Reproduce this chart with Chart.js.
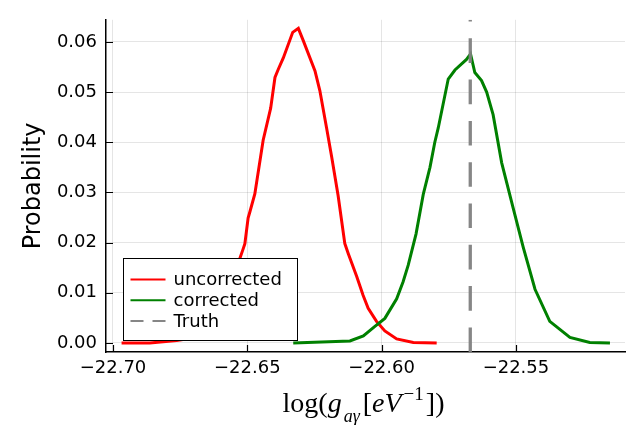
<!DOCTYPE html>
<html>
<head>
<meta charset="utf-8">
<script src="https://cdn.jsdelivr.net/npm/chart.js@4"></script>
<style>
  body { margin: 0; background: #fff; }
  #wrap { position: relative; width: 627px; height: 425px; }
  #xtitle {
    position: absolute; left: 0; top: 389px; width: 727px; text-align: center;
    font-family: "Liberation Serif", "DejaVu Serif", serif; font-size: 28px;
    line-height: 28px; color: #000; white-space: nowrap;
  }
  #xtitle i { padding-right: 1px; }
  #xtitle .sub { position: relative; top: 10px; font-size: 18px; font-style: italic; margin: 0 3px 0 1px; }
  #xtitle .sup { position: relative; top: -12px; font-size: 19px; margin: 0 2px 0 1px; }
</style>
</head>
<body>
<div id="wrap">
  <canvas id="kdeChart" width="627" height="425"></canvas>
  <div id="xtitle">log(<i>g</i><span class="sub">aγ</span>[<i>eV</i><span class="sup">−1</span>])</div>
</div>
<script>
// values
const uncorrectedX = [-22.6968, -22.6863, -22.6763, -22.6677, -22.6621, -22.6572, -22.6547, -22.6530,
  -22.6517, -22.6509, -22.6497, -22.6490, -22.6472, -22.6441, -22.6413, -22.6397, -22.6385, -22.6366,
  -22.6331, -22.6310, -22.6292, -22.6248, -22.6230, -22.6205, -22.6186, -22.6162, -22.6137, -22.6124,
  -22.6093, -22.6069, -22.6050, -22.6019, -22.5988, -22.5944, -22.5882, -22.5795];
const uncorrectedY = [0.0000, 0.0000, 0.0005, 0.0012, 0.0035, 0.0080, 0.0120, 0.0165,
  0.0185, 0.0198, 0.0249, 0.0262, 0.0297, 0.0404, 0.0468, 0.0529, 0.0545, 0.0568,
  0.0619, 0.0627, 0.0603, 0.0542, 0.0503, 0.0429, 0.0371, 0.0294, 0.0198, 0.0178,
  0.0133, 0.0095, 0.0069, 0.0043, 0.0024, 0.0008, 0.0001, 0.0000];

const correctedX = [-22.6329, -22.6118, -22.6068, -22.6025, -22.5988, -22.5944, -22.5920, -22.5901,
  -22.5872, -22.5845, -22.5820, -22.5802, -22.5789, -22.5752, -22.5727, -22.5684, -22.5669, -22.5653,
  -22.5628, -22.5609, -22.5585, -22.5553, -22.5510, -22.5473, -22.5429, -22.5374, -22.5299, -22.5225,
  -22.5150];
const correctedY = [0.0000, 0.0004, 0.0014, 0.0033, 0.0049, 0.0088, 0.0122, 0.0155,
  0.0217, 0.0296, 0.0350, 0.0400, 0.0429, 0.0526, 0.0544, 0.0565, 0.0576, 0.0539,
  0.0523, 0.0500, 0.0455, 0.0359, 0.0268, 0.0191, 0.0107, 0.0043, 0.0011, 0.0001,
  0.0000];

const truthValue = -22.567;

const xTicks = [-22.70, -22.65, -22.60, -22.55];
const yTicks = [0.00, 0.01, 0.02, 0.03, 0.04, 0.05, 0.06];
const xRange = [-22.7026, -22.5094];
const yRange = [-0.0018, 0.0644];

const seriesLabels = ['uncorrected', 'corrected', 'Truth'];

const toPoints = (xs, ys) => xs.map((x, i) => ({ x: x, y: ys[i] }));

// legend box + inward tick marks, drawn the way the original plot does it
const plotExtras = {
  id: 'plotExtras',
  afterDatasetsDraw(chart) {
    const ctx = chart.ctx;
    const area = chart.chartArea;
    const xs = chart.scales.x, ys = chart.scales.y;

    // inward ticks
    ctx.save();
    ctx.strokeStyle = '#000';
    ctx.lineWidth = 1.2;
    ctx.beginPath();
    xTicks.forEach(v => {
      const px = Math.round(xs.getPixelForValue(v)) + 0.5;
      ctx.moveTo(px, area.bottom);
      ctx.lineTo(px, area.bottom - 7);
    });
    yTicks.forEach(v => {
      const py = Math.round(ys.getPixelForValue(v)) + 0.5;
      ctx.moveTo(area.left, py);
      ctx.lineTo(area.left + 7, py);
    });
    ctx.stroke();

    // legend
    const bx = area.left + 17.5, by = area.bottom - 93.5, bw = 174, bh = 82;
    ctx.fillStyle = '#fff';
    ctx.fillRect(bx, by, bw, bh);
    ctx.strokeStyle = '#000';
    ctx.lineWidth = 1;
    ctx.strokeRect(bx, by, bw, bh);
    ctx.font = '18px "DejaVu Sans"';
    ctx.textBaseline = 'middle';
    ctx.textAlign = 'left';
    chart.data.datasets.forEach((ds, i) => {
      const ry = by + 21 + i * 20.7;
      ctx.strokeStyle = ds.borderColor;
      ctx.lineWidth = 2;
      ctx.setLineDash(ds.borderDash ? [13, 9] : []);
      ctx.beginPath();
      ctx.moveTo(bx + 7, ry);
      ctx.lineTo(bx + 42, ry);
      ctx.stroke();
      ctx.setLineDash([]);
      ctx.fillStyle = '#000';
      ctx.fillText(ds.label, bx + 50, ry + 1);
    });
    ctx.restore();
  }
};

document.addEventListener('DOMContentLoaded', function() {
  const ctx = document.getElementById('kdeChart').getContext('2d');

  const data = {
    datasets: [{
      label: seriesLabels[0],
      data: toPoints(uncorrectedX, uncorrectedY),
      borderColor: '#ff0000',
      borderWidth: 3,
      order: 3
    }, {
      label: seriesLabels[1],
      data: toPoints(correctedX, correctedY),
      borderColor: '#008000',
      borderWidth: 3,
      order: 2
    }, {
      label: seriesLabels[2],
      data: [{ x: truthValue, y: yRange[0] }, { x: truthValue, y: yRange[1] }],
      borderColor: 'rgba(128, 128, 128, 0.95)',
      borderWidth: 3.3,
      borderDash: [24.6, 16.7],
      order: 1
    }]
  };

  const config = {
    type: 'line',
    data: data,
    options: {
      responsive: false,
      animation: false,
      devicePixelRatio: 1,
      elements: {
        point: { radius: 0 },
        line: { tension: 0, fill: false }
      },
      layout: { padding: { top: 9, right: 2, left: 0, bottom: 0 } },
      scales: {
        x: {
          type: 'linear',
          min: xRange[0],
          max: xRange[1],
          afterFit: s => { s.height = 73; },
          afterBuildTicks: s => { s.ticks = xTicks.map(v => ({ value: v })); },
          grid: { color: 'rgba(0,0,0,0.1)', lineWidth: 1, drawTicks: false },
          border: { color: '#000', width: 1.5 },
          ticks: {
            padding: 6,
            color: '#000',
            maxRotation: 0,
            font: { family: 'DejaVu Sans', size: 18 },
            callback: v => (v < 0 ? '\u2212' : '') + Math.abs(v).toFixed(2)
          }
        },
        y: {
          min: yRange[0],
          max: yRange[1],
          afterFit: s => { s.width = 106; },
          afterBuildTicks: s => { s.ticks = yTicks.map(v => ({ value: v })); },
          grid: { color: 'rgba(0,0,0,0.1)', lineWidth: 1, drawTicks: false },
          border: { color: '#000', width: 1.5 },
          ticks: {
            padding: 9,
            color: '#000',
            font: { family: 'DejaVu Sans', size: 18 },
            callback: v => v.toFixed(2)
          },
          title: {
            display: true,
            text: 'Probability',
            color: '#000',
            font: { family: 'DejaVu Sans', size: 24 },
            padding: { top: 19, bottom: 0 }
          }
        }
      },
      plugins: {
        legend: { display: false },
        tooltip: { enabled: false }
      }
    },
    plugins: [plotExtras]
  };

  new Chart(ctx, config);
});
</script>
</body>
</html>
